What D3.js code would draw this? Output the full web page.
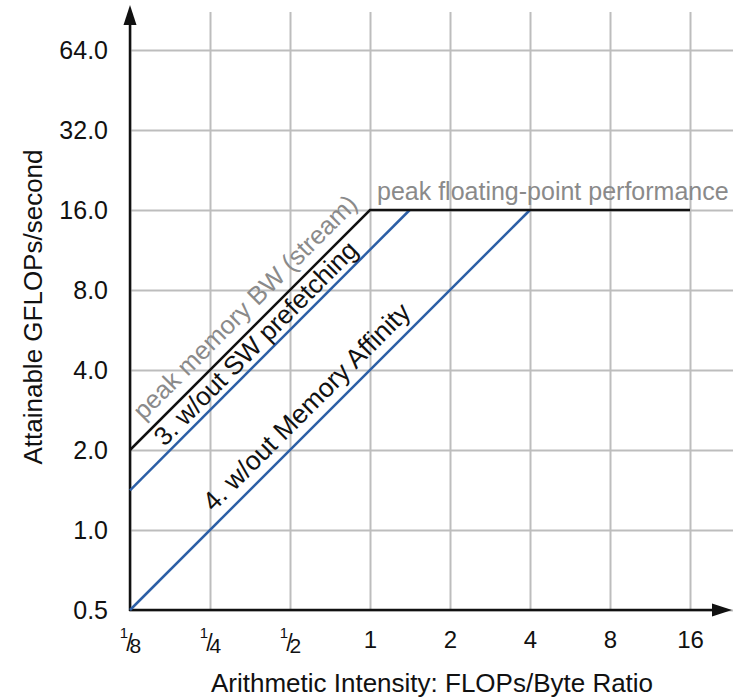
<!DOCTYPE html>
<html>
<head>
<meta charset="utf-8">
<script src="https://d3js.org/d3.v7.min.js"></script>
<style>
  body { margin: 0; background: #fff; }
  svg { font-family: "Liberation Sans", Arial, Helvetica, sans-serif; }
  .grid line { stroke: #bdbdbd; stroke-width: 2; }
  .grid .domain { display: none; }
</style>
</head>
<body>
<script>
// ticks
var xTicks = [0.125, 0.25, 0.5, 1, 2, 4, 8, 16];
var xLabels = ["1/8", "1/4", "1/2", "1", "2", "4", "8", "16"];
var yTicks = [0.5, 1, 2, 4, 8, 16, 32, 64];

// roofline ceilings, [intensity, GFLOPs/s]
var roofStream = [[0.125, 2], [1, 16], [16, 16]];
var roofNoPrefetch = [[0.125, 1.41], [1.41, 16]];
var roofNoAffinity = [[0.125, 0.5], [4, 16]];
var peakLabel = "peak floating-point performance";
var streamLabel = "peak memory BW (stream)";
var prefetchLabel = "3. w/out SW prefetching";
var affinityLabel = "4. w/out Memory Affinity";

var W = 733, H = 697;
var pLeft = 130, pRight = 690, pTop = 50, pBottom = 610;

var svg = d3.select("body").append("svg")
    .attr("width", W)
    .attr("height", H);

var x = d3.scaleLog().base(2)
    .domain([0.125, 16])
    .range([pLeft, pRight]);

var y = d3.scaleLog().base(2)
    .domain([0.5, 64])
    .range([pBottom, pTop]);

// grid
svg.append("g")
    .attr("class", "grid")
    .attr("transform", "translate(0," + pBottom + ")")
    .call(d3.axisBottom(x).tickValues(xTicks).tickSize(-(pBottom - 12)).tickFormat(""));

svg.append("g")
    .attr("class", "grid")
    .attr("transform", "translate(" + pLeft + ",0)")
    .call(d3.axisRight(y).tickValues(yTicks).tickSize(W - pLeft).tickFormat(""));

// tick labels
var yAxis = svg.append("g")
    .attr("transform", "translate(" + pLeft + ",0)")
    .call(d3.axisLeft(y).tickValues(yTicks).tickSize(0).tickPadding(22).tickFormat(d3.format(".1f")));
yAxis.select(".domain").remove();
yAxis.selectAll("text")
    .attr("font-size", 25)
    .attr("font-family", "Liberation Sans, Arial, sans-serif")
    .attr("fill", "#111");

var xAxis = svg.append("g")
    .attr("transform", "translate(0," + pBottom + ")")
    .call(d3.axisBottom(x).tickValues(xTicks).tickSize(0).tickFormat(""));
xAxis.select(".domain").remove();
xAxis.selectAll(".tick text")
    .attr("y", 38)
    .attr("dy", null)
    .attr("font-size", 24)
    .attr("font-family", "Liberation Sans, Arial, sans-serif")
    .attr("fill", "#111")
    .each(function(d, i) {
        var t = d3.select(this), lab = xLabels[i];
        if (lab.indexOf("/") < 0) { t.text(lab); return; }
        var parts = lab.split("/");
        t.append("tspan").attr("font-size", 15).attr("dy", -10).text(parts[0]);
        t.append("tspan").attr("font-size", 23).attr("dx", -2).attr("dy", 13).text("/");
        t.append("tspan").attr("font-size", 21).attr("dx", -3).attr("dy", 2).text(parts[1]);
    });

// axis lines with arrowheads
svg.append("line")
    .attr("x1", pLeft).attr("y1", pBottom + 1)
    .attr("x2", pLeft).attr("y2", 22)
    .attr("stroke", "#111").attr("stroke-width", 2.5);
svg.append("path")
    .attr("d", d3.line()([[pLeft, 5], [pLeft - 6.5, 25], [pLeft + 6.5, 25]]) + "Z")
    .attr("fill", "#111");
svg.append("line")
    .attr("x1", pLeft - 1).attr("y1", pBottom)
    .attr("x2", W - 18).attr("y2", pBottom)
    .attr("stroke", "#111").attr("stroke-width", 2.5);
svg.append("path")
    .attr("d", d3.line()([[W - 1, pBottom], [W - 21, pBottom - 6.5], [W - 21, pBottom + 6.5]]) + "Z")
    .attr("fill", "#111");

// ceilings
var line = d3.line()
    .x(function(d) { return x(d[0]); })
    .y(function(d) { return y(d[1]); });

svg.append("path").datum(roofNoAffinity)
    .attr("d", line).attr("fill", "none")
    .attr("stroke", "#2c5fa6").attr("stroke-width", 2.5);
svg.append("path").datum(roofNoPrefetch)
    .attr("d", line).attr("fill", "none")
    .attr("stroke", "#2c5fa6").attr("stroke-width", 2.5);
svg.append("path").datum(roofStream)
    .attr("d", line).attr("fill", "none")
    .attr("stroke", "#111").attr("stroke-width", 2.5);

// label along the first segment of a ceiling
function labelAlong(pts, text, along, offset, color, size) {
    var x0 = x(pts[0][0]), y0 = y(pts[0][1]);
    var x1 = x(pts[1][0]), y1 = y(pts[1][1]);
    var len = Math.hypot(x1 - x0, y1 - y0);
    var ux = (x1 - x0) / len, uy = (y1 - y0) / len;
    // normal pointing up-left
    var nx = uy, ny = -ux;
    var px = x0 + ux * along + nx * offset;
    var py = y0 + uy * along + ny * offset;
    var ang = Math.atan2(y1 - y0, x1 - x0) * 180 / Math.PI;
    svg.append("text")
        .attr("transform", "translate(" + px + "," + py + ") rotate(" + ang + ")")
        .attr("font-size", size)
        .attr("fill", color)
        .text(text);
}

labelAlong(roofStream, streamLabel, 30, 11, "#8a8a8a", 25.5);
labelAlong(roofNoPrefetch, prefetchLabel, 55, 6, "#111", 26);
labelAlong(roofNoAffinity, affinityLabel, 128, 10, "#111", 26.5);

svg.append("text")
    .attr("x", x(roofStream[1][0]) + 7)
    .attr("y", y(roofStream[1][1]) - 10)
    .attr("font-size", 25)
    .attr("fill", "#8a8a8a")
    .text(peakLabel);

// axis titles
svg.append("text")
    .attr("x", 432)
    .attr("y", 692)
    .attr("text-anchor", "middle")
    .attr("font-size", 26)
    .attr("fill", "#111")
    .text("Arithmetic Intensity: FLOPs/Byte Ratio");

svg.append("text")
    .attr("transform", "translate(42,307) rotate(-90)")
    .attr("text-anchor", "middle")
    .attr("font-size", 26)
    .attr("fill", "#111")
    .text("Attainable GFLOPs/second");
</script>
</body>
</html>
